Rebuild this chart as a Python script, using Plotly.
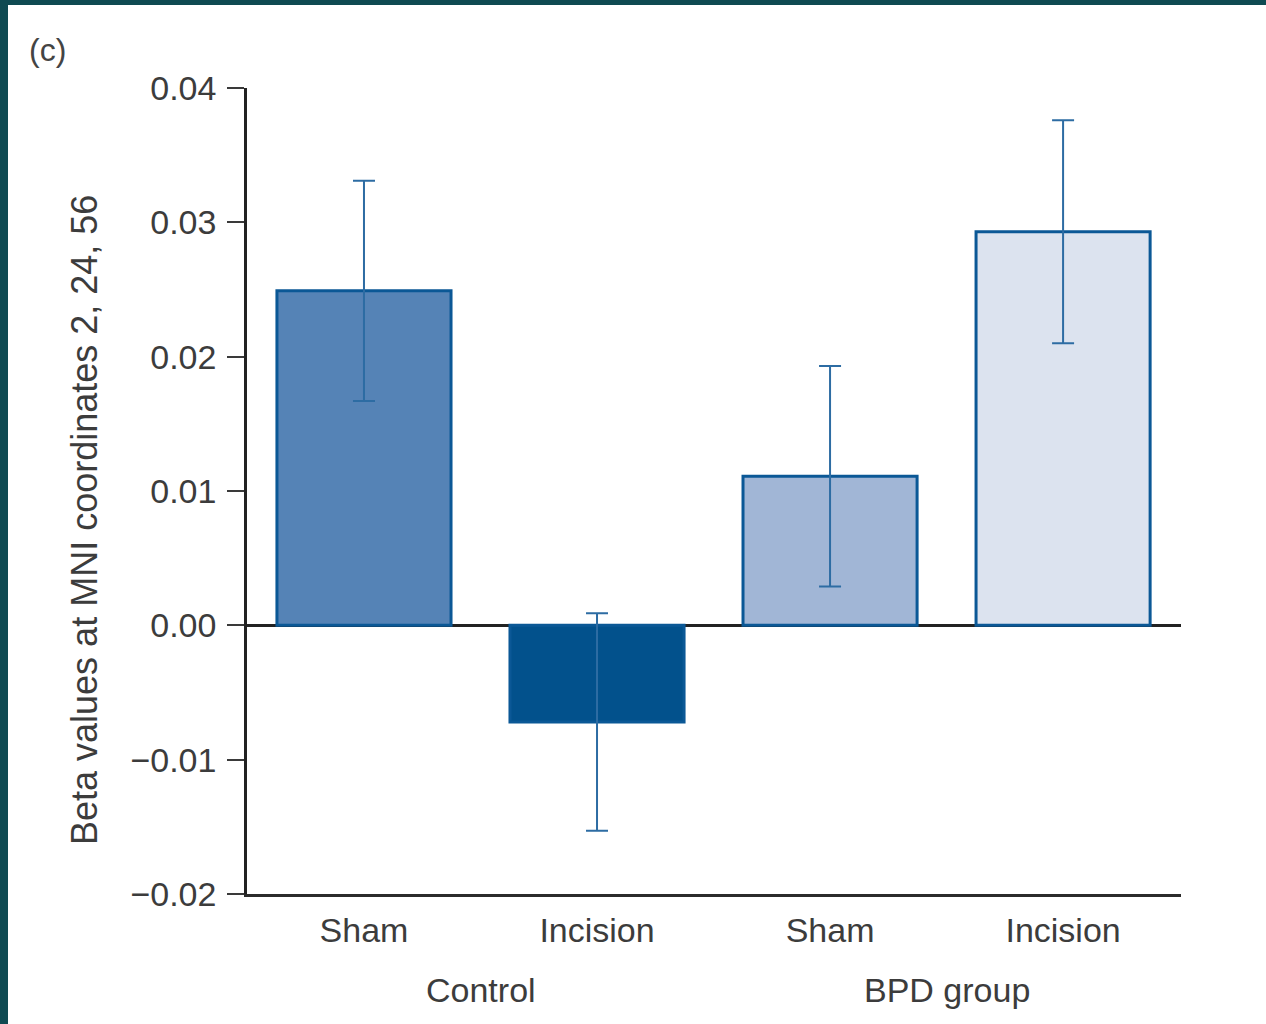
import plotly.graph_objects as go

# ---- data ----
conditions = ["Sham", "Incision", "Sham", "Incision"]
groups = ["Control", "BPD group"]
beta_means = [0.0249, -0.0072, 0.0111, 0.0293]
beta_err = [0.0082, 0.0081, 0.0082, 0.0083]
bar_colors = ["#5583b6", "#02518c", "#a1b6d6", "#dce3ef"]
y_ticks = [-0.02, -0.01, 0.0, 0.01, 0.02, 0.03, 0.04]
y_title = "Beta values at MNI coordinates 2, 24, 56"

W, H = 1266, 1024
ML, MR, MT, MB = 247, 85, 88, 130
PW, PH = W - ML - MR, H - MT - MB

def px_x(p):
    return (p - ML) / PW

def px_y(p):
    return 1 - (p - MT) / PH

xpos = list(range(len(conditions)))

fig = go.Figure()
fig.add_trace(go.Bar(
    x=xpos, y=beta_means, width=0.747,
    marker=dict(color=bar_colors, line=dict(color="#0b5896", width=3)),
    error_y=dict(type="data", array=beta_err, visible=True,
                 color="#2d6ca3", thickness=2, width=11),
    showlegend=False,
))

font_main = "Liberation Sans, Arial, sans-serif"
txt_col = "#3c3c3c"

fig.update_layout(
    width=W, height=H,
    margin=dict(l=ML, r=MR, t=MT, b=MB, pad=0),
    paper_bgcolor="white", plot_bgcolor="white",
    font=dict(family=font_main, color=txt_col, size=34),
    xaxis=dict(
        range=[-0.502, 3.506], tickvals=xpos, ticktext=conditions,
        showline=True, linecolor="#2b2b2b", linewidth=3,
        ticks="", showgrid=False, zeroline=False,
        tickfont=dict(size=34, color=txt_col), ticklabelstandoff=4,
    ),
    yaxis=dict(
        range=[-0.02, 0.04], tickvals=y_ticks, tickformat=".2f",
        showline=True, linecolor="#222222", linewidth=2.5,
        ticks="outside", ticklen=17, tickwidth=2, tickcolor="#3a3a3a",
        showgrid=False, zeroline=True, zerolinecolor="#222222", zerolinewidth=3,
        tickfont=dict(size=34, color=txt_col), ticklabelstandoff=4,
    ),
    annotations=[
        dict(text="(c)", xref="paper", yref="paper", x=px_x(27), y=px_y(50),
             xanchor="left", yanchor="middle", showarrow=False,
             font=dict(size=32, color="#444444")),
        dict(text=y_title, xref="paper", yref="paper", x=px_x(84), y=px_y(520),
             xanchor="center", yanchor="middle", textangle=-90, showarrow=False,
             font=dict(size=36, color=txt_col)),
        dict(text=groups[0], xref="x", yref="paper", x=0.5, y=px_y(990),
             xanchor="center", yanchor="middle", showarrow=False,
             font=dict(size=34, color=txt_col)),
        dict(text=groups[1], xref="x", yref="paper", x=2.5, y=px_y(990),
             xanchor="center", yanchor="middle", showarrow=False,
             font=dict(size=34, color=txt_col)),
    ],
    shapes=[
        dict(type="rect", xref="paper", yref="paper", x0=px_x(0), x1=px_x(W),
             y0=px_y(5), y1=px_y(0), fillcolor="#0f4a52", line=dict(width=0),
             layer="above"),
        dict(type="rect", xref="paper", yref="paper", x0=px_x(0), x1=px_x(8),
             y0=px_y(H), y1=px_y(0), fillcolor="#0f4a52", line=dict(width=0),
             layer="above"),
    ],
)

fig.write_html(
    "out.html",
    config={"displayModeBar": False},
    post_script="document.body.style.margin='0';document.body.style.overflow='hidden';",
)
